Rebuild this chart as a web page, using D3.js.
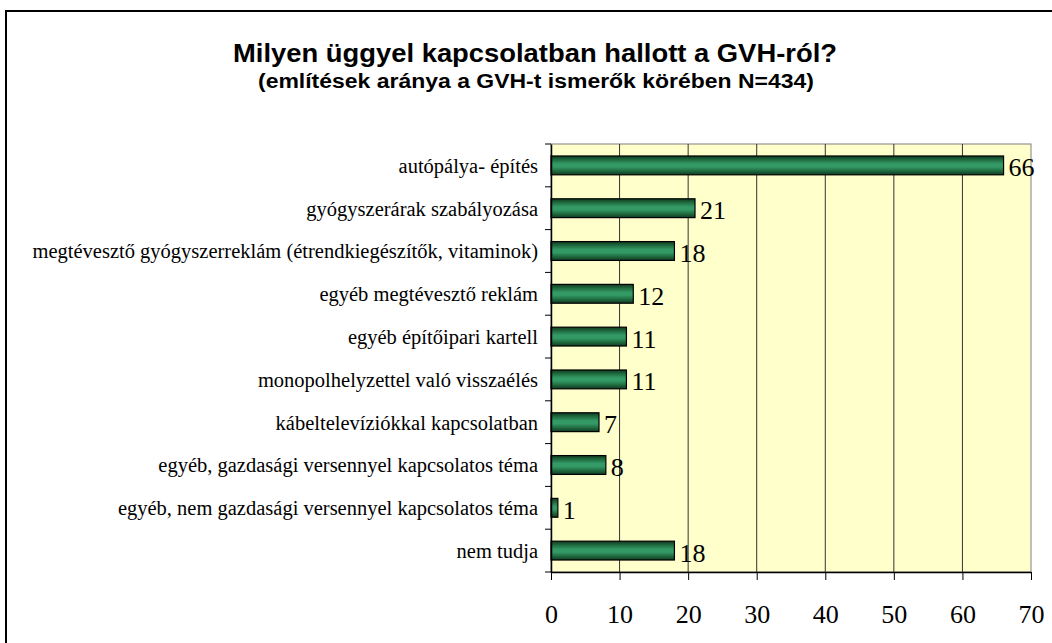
<!DOCTYPE html>
<html><head><meta charset="utf-8">
<script src="https://cdn.jsdelivr.net/npm/d3@7"></script>
<style>body{margin:0;background:#fff}svg{display:block}</style>
</head><body>
<svg id="c" width="1052" height="643"></svg>
<script>
const categories = [
  "autópálya- építés",
  "gyógyszerárak szabályozása",
  "megtévesztő gyógyszerreklám (étrendkiegészítők, vitaminok)",
  "egyéb megtévesztő reklám",
  "egyéb építőipari kartell",
  "monopolhelyzettel való visszaélés",
  "kábeltelevíziókkal kapcsolatban",
  "egyéb, gazdasági versennyel kapcsolatos téma",
  "egyéb, nem gazdasági versennyel kapcsolatos téma",
  "nem tudja"
];
const values = [66, 21, 18, 12, 11, 11, 7, 8, 1, 18];
const xTicks = [0, 10, 20, 30, 40, 50, 60, 70];
const titleText = "Milyen üggyel kapcsolatban hallott a GVH-ról?";
const subtitleText = "(említések aránya a GVH-t ismerők körében N=434)";

const SERIF = "'Liberation Serif', 'Times New Roman', serif";
const SANS = "'Liberation Sans', Arial, sans-serif";

const svg = d3.select("#c");
const L = 551, R = 1031, T = 144, B = 572;

// outer frame
svg.append("rect").attr("x", 6).attr("y", 11).attr("width", 1100).attr("height", 700)
  .attr("fill", "#fff").attr("stroke", "#000").attr("stroke-width", 2);

svg.append("text").attr("x", 535).attr("y", 62).attr("text-anchor", "middle")
  .style("font-family", SANS).style("font-weight", "bold").style("font-size", "26px")
  .attr("textLength", 604).attr("lengthAdjust", "spacingAndGlyphs").text(titleText);
svg.append("text").attr("x", 536).attr("y", 88).attr("text-anchor", "middle")
  .style("font-family", SANS).style("font-weight", "bold").style("font-size", "19.5px")
  .attr("textLength", 556).attr("lengthAdjust", "spacingAndGlyphs").text(subtitleText);

const x = d3.scaleLinear().domain([0, 70]).range([L, R]);
const y = d3.scaleBand().domain(categories).range([T, B]).paddingInner(0.56).paddingOuter(0.28);
const yb = d3.scaleBand().domain(categories).range([T, B]);

const defs = svg.append("defs");
const g = defs.append("linearGradient").attr("id", "bg").attr("x1", 0).attr("y1", 0).attr("x2", 0).attr("y2", 1);
[["0%", "#103a22"], ["20%", "#1f6a3e"], ["42%", "#339966"], ["58%", "#339966"], ["80%", "#1f6a3e"], ["100%", "#103a22"]]
  .forEach(([o, c]) => g.append("stop").attr("offset", o).attr("stop-color", c));

svg.append("rect").attr("x", L).attr("y", T).attr("width", R - L).attr("height", B - T)
  .attr("fill", "#ffffcc").attr("stroke", "#808080").attr("stroke-width", 1);

// grid
svg.append("g").selectAll("line").data(xTicks.filter(d => d > 0 && d < 70)).join("line")
  .attr("x1", d => x(d)).attr("x2", d => x(d)).attr("y1", T).attr("y2", B)
  .attr("stroke", "#333").attr("stroke-width", 1);

// bars
svg.append("g").selectAll("rect").data(values).join("rect")
  .attr("x", x(0)).attr("y", (d, i) => y(categories[i]))
  .attr("width", d => x(d) - x(0)).attr("height", y.bandwidth())
  .attr("fill", "url(#bg)").attr("stroke", "#000").attr("stroke-width", 1.2);

// value labels
svg.append("g").selectAll("text").data(values).join("text")
  .attr("x", d => x(d) + 5).attr("y", (d, i) => y(categories[i]) + y.bandwidth() / 2 + 11)
  .style("font-family", SERIF).style("font-size", "26px")
  .text(d => d);

// y axis
const yAxis = d3.axisLeft(yb).tickSize(0).tickPadding(13);
const ya = svg.append("g").attr("transform", `translate(${L},0)`).call(yAxis);
ya.attr("font-family", null).attr("font-size", null);
ya.select(".domain").attr("stroke", "#000").attr("stroke-width", 1.5);
ya.selectAll("text").style("font-family", SERIF).style("font-size", "20.5px").attr("fill", "#000")
  .attr("dy", "0.36em");
// y ticks at band boundaries
svg.append("g").selectAll("line").data(d3.range(categories.length + 1)).join("line")
  .attr("x1", L - 6).attr("x2", L).attr("y1", i => T + i * yb.step()).attr("y2", i => T + i * yb.step())
  .attr("stroke", "#000").attr("stroke-width", 1);

// x axis
const xAxis = d3.axisBottom(x).tickValues(xTicks).tickSize(8).tickPadding(25).tickSizeOuter(0);
const xa = svg.append("g").attr("transform", `translate(0,${B})`).call(xAxis);
xa.attr("font-family", null).attr("font-size", null);
xa.select(".domain").attr("stroke", "#000").attr("stroke-width", 1.5);
xa.selectAll(".tick line").attr("stroke", "#000");
xa.selectAll("text").style("font-family", SERIF).style("font-size", "26px").attr("fill", "#000");
</script>
</body></html>
